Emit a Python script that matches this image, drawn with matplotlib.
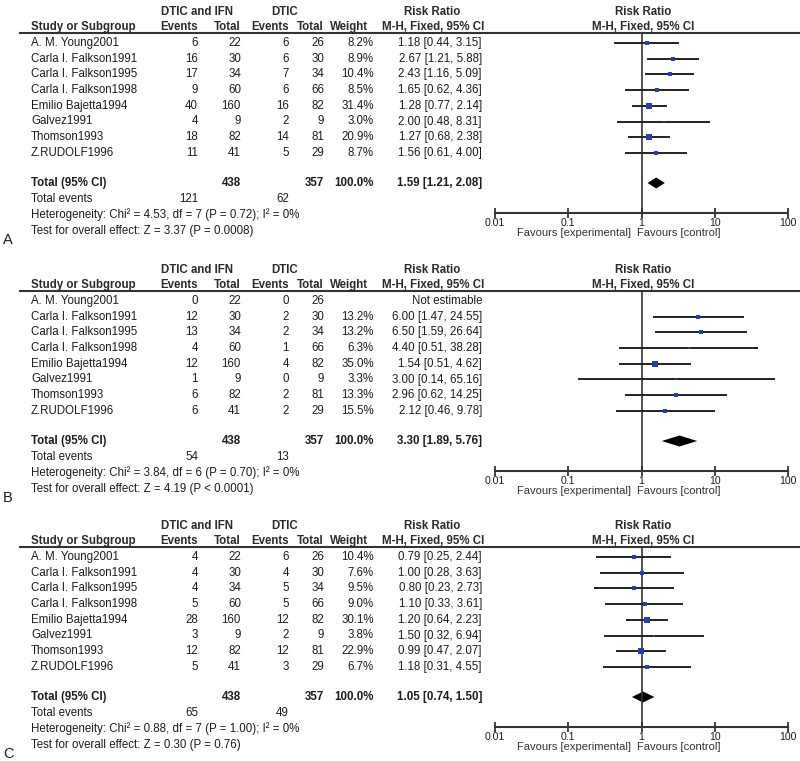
# forest plots (risk ratio) for three outcomes, RevMan style

import numpy as np
import matplotlib.pyplot as plt
from matplotlib.ticker import NullLocator

plt.rcParams['font.family'] = ['Liberation Sans', 'DejaVu Sans']

studies = ["A. M. Young2001", "Carla I. Falkson1991", "Carla I. Falkson1995",
           "Carla I. Falkson1998", "Emilio Bajetta1994", "Galvez1991",
           "Thomson1993", "Z.RUDOLF1996"]
total_exp = [22, 30, 34, 60, 160, 9, 82, 41]
total_ctl = [26, 30, 34, 66, 82, 9, 81, 29]

# panel A
ev_exp_a = [6, 16, 17, 9, 40, 4, 18, 11]
ev_ctl_a = [6, 6, 7, 6, 16, 2, 14, 5]
weight_a = [8.2, 8.9, 10.4, 8.5, 31.4, 3.0, 20.9, 8.7]
rr_a = [1.18, 2.67, 2.43, 1.65, 1.28, 2.00, 1.27, 1.56]
lo_a = [0.44, 1.21, 1.16, 0.62, 0.77, 0.48, 0.68, 0.61]
hi_a = [3.15, 5.88, 5.09, 4.36, 2.14, 8.31, 2.38, 4.00]
pooled_a = [1.59, 1.21, 2.08]
events_a = [121, 62]
het_a = "Heterogeneity: Chi\u00b2 = 4.53, df = 7 (P = 0.72); I\u00b2 = 0%"
test_a = "Test for overall effect: Z = 3.37 (P = 0.0008)"

# panel B
ev_exp_b = [0, 12, 13, 4, 12, 1, 6, 6]
ev_ctl_b = [0, 2, 2, 1, 4, 0, 2, 2]
weight_b = [np.nan, 13.2, 13.2, 6.3, 35.0, 3.3, 13.3, 15.5]
rr_b = [np.nan, 6.00, 6.50, 4.40, 1.54, 3.00, 2.96, 2.12]
lo_b = [np.nan, 1.47, 1.59, 0.51, 0.51, 0.14, 0.62, 0.46]
hi_b = [np.nan, 24.55, 26.64, 38.28, 4.62, 65.16, 14.25, 9.78]
pooled_b = [3.30, 1.89, 5.76]
events_b = [54, 13]
het_b = "Heterogeneity: Chi\u00b2 = 3.84, df = 6 (P = 0.70); I\u00b2 = 0%"
test_b = "Test for overall effect: Z = 4.19 (P < 0.0001)"

# panel C
ev_exp_c = [4, 4, 4, 5, 28, 3, 12, 5]
ev_ctl_c = [6, 4, 5, 5, 12, 2, 12, 3]
weight_c = [10.4, 7.6, 9.5, 9.0, 30.1, 3.8, 22.9, 6.7]
rr_c = [0.79, 1.00, 0.80, 1.10, 1.20, 1.50, 0.99, 1.18]
lo_c = [0.25, 0.28, 0.23, 0.33, 0.64, 0.32, 0.47, 0.31]
hi_c = [2.44, 3.63, 2.73, 3.61, 2.23, 6.94, 2.07, 4.55]
pooled_c = [1.05, 0.74, 1.50]
events_c = [65, 49]
het_c = "Heterogeneity: Chi\u00b2 = 0.88, df = 7 (P = 1.00); I\u00b2 = 0%"
test_c = "Test for overall effect: Z = 0.30 (P = 0.76)"

ticks = [0.01, 0.1, 1, 10, 100]
tick_labels = ["0.01", "0.1", "1", "10", "100"]

W, H = 800, 761
FS = 8.3
TXT = "#1c1c1c"
HEAD = "#2a2a2a"
LINE = "#333333"
BLUE = "#2540a8"

fig = plt.figure(figsize=(W / 100, H / 100), dpi=100)
bg = fig.add_axes([0, 0, 1, 1])
bg.set_xlim(0, W)
bg.set_ylim(H, 0)
bg.axis("off")


def txt(x, y, s, ha="right", bold=False, color=TXT, size=FS):
    bg.text(x, y, s, ha=ha, va="center", fontsize=size, color=color,
            fontweight="bold" if bold else "normal")


def panel(off, letter, ev_exp, ev_ctl, weight, rr, lo, hi, pooled, events, het, test):
    line_y = 33 + off
    axis_y = 213 + off
    row_y = [43 + off + 15.7 * i for i in range(len(studies))]
    tot_y = 183 + off

    # header
    txt(197, 12 + off, "DTIC and IFN", ha="center", bold=True, color=HEAD)
    txt(285, 12 + off, "DTIC", ha="center", bold=True, color=HEAD)
    txt(432, 12 + off, "Risk Ratio", ha="center", bold=True, color=HEAD)
    txt(643, 12 + off, "Risk Ratio", ha="center", bold=True, color=HEAD)
    txt(31, 27 + off, "Study or Subgroup", ha="left", bold=True, color=HEAD)
    txt(198, 27 + off, "Events", bold=True, color=HEAD)
    txt(241, 27 + off, "Total", bold=True, color=HEAD)
    txt(289, 27 + off, "Events", bold=True, color=HEAD)
    txt(324, 27 + off, "Total", bold=True, color=HEAD)
    txt(368, 27 + off, "Weight", bold=True, color=HEAD)
    txt(433, 27 + off, "M-H, Fixed, 95% CI", ha="center", bold=True, color=HEAD)
    txt(643, 27 + off, "M-H, Fixed, 95% CI", ha="center", bold=True, color=HEAD)
    bg.plot([20, W], [line_y, line_y], color=LINE, lw=1.5)

    # study rows
    for i, name in enumerate(studies):
        y = row_y[i]
        txt(31, y, name, ha="left")
        txt(198, y, str(ev_exp[i]))
        txt(241, y, str(total_exp[i]))
        txt(289, y, str(ev_ctl[i]))
        txt(324, y, str(total_ctl[i]))
        if np.isnan(rr[i]):
            txt(482, y, "Not estimable")
        else:
            txt(374, y, f"{weight[i]:.1f}%")
            txt(482, y, f"{rr[i]:.2f} [{lo[i]:.2f}, {hi[i]:.2f}]")

    # totals
    txt(31, tot_y, "Total (95% CI)", ha="left", bold=True)
    txt(241, tot_y, str(sum(total_exp)), bold=True)
    txt(324, tot_y, str(sum(total_ctl)), bold=True)
    txt(374, tot_y, "100.0%", bold=True)
    txt(482, tot_y, f"{pooled[0]:.2f} [{pooled[1]:.2f}, {pooled[2]:.2f}]", bold=True)
    txt(31, 199 + off, "Total events", ha="left")
    txt(198, 199 + off, str(events[0]))
    txt(289, 199 + off, str(events[1]))
    txt(31, 215 + off, het, ha="left")
    txt(31, 231 + off, test, ha="left")
    txt(3, 240 + off, letter, ha="left", size=10.5)

    txt(631, 233 + off, "Favours [experimental]", color="#333", size=8)
    txt(637, 233 + off, "Favours [control]", ha="left", color="#333", size=8)

    # forest plot
    fa = fig.add_axes([495 / W, 1 - axis_y / H, 293 / W, (axis_y - line_y) / H])
    fa.patch.set_alpha(0)
    fa.set_xscale("log")
    fa.set_xlim(0.01, 100)
    fa.set_ylim(axis_y, line_y)
    for s in ["top", "right", "left"]:
        fa.spines[s].set_visible(False)
    fa.spines["bottom"].set_linewidth(1.5)
    fa.spines["bottom"].set_color(LINE)
    fa.set_xticks(ticks)
    fa.set_xticklabels(tick_labels)
    fa.xaxis.set_minor_locator(NullLocator())
    fa.tick_params(axis="x", direction="inout", length=7, width=1.3,
                   pad=0, labelsize=7.6, colors=LINE, labelcolor=TXT)
    fa.set_yticks([])
    fa.axvline(1, color=LINE, lw=1.2)

    for i in range(len(studies)):
        if np.isnan(rr[i]):
            continue
        fa.plot([lo[i], hi[i]], [row_y[i], row_y[i]], color="#222222", lw=1.4)
        fa.plot(rr[i], row_y[i], marker="s", ms=0.85 * np.sqrt(weight[i]),
                color=BLUE, mec=BLUE, mew=0, zorder=3)

    est, clo, chi = pooled
    fa.fill([clo, est, chi, est], [tot_y, tot_y - 5.5, tot_y, tot_y + 5.5],
            color="black", lw=0)


panel(0, "A", ev_exp_a, ev_ctl_a, weight_a, rr_a, lo_a, hi_a, pooled_a, events_a, het_a, test_a)
panel(258, "B", ev_exp_b, ev_ctl_b, weight_b, rr_b, lo_b, hi_b, pooled_b, events_b, het_b, test_b)
panel(514, "C", ev_exp_c, ev_ctl_c, weight_c, rr_c, lo_c, hi_c, pooled_c, events_c, het_c, test_c)

fig.savefig("out.png", dpi=100)
